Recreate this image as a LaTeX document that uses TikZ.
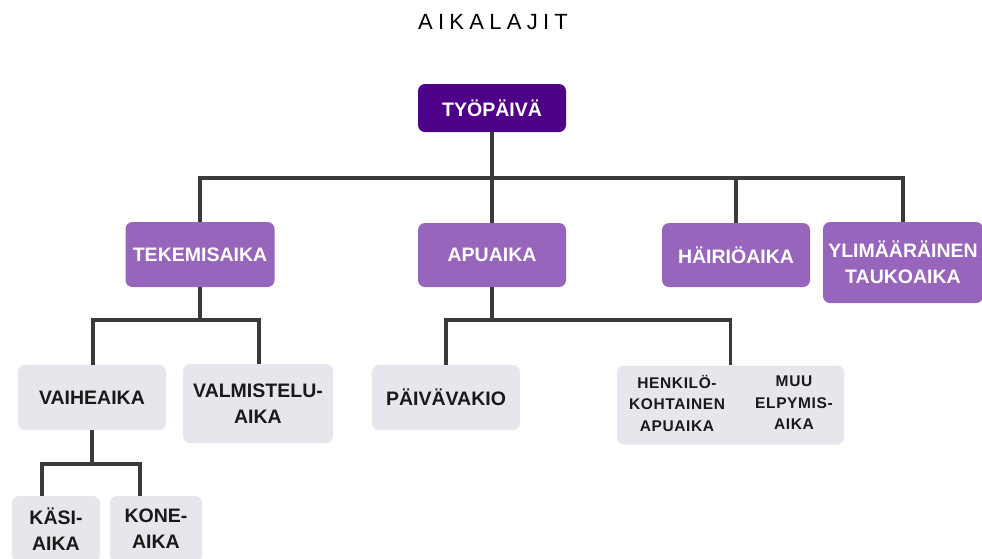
\documentclass[tikz,border=0pt]{standalone}
\usepackage{fontspec}
\setmainfont{Liberation Sans}
\definecolor{topfill}{HTML}{4F0088}
\definecolor{midfill}{HTML}{9766BC}
\definecolor{lowfill}{HTML}{E8E6EC}
\definecolor{linkcol}{HTML}{3A3A3A}
\tikzset{
  boxbase/.style={rectangle, rounded corners=7pt, inner sep=0pt, align=center,
    font=\fontsize{19.5}{26}\selectfont\bfseries},
  topbox/.style={boxbase, fill=topfill, text=white},
  midbox/.style={boxbase, fill=midfill, text=white},
  lowbox/.style={boxbase, fill=lowfill, text=black!90},
  smalltext/.style={inner sep=0pt, align=center, text=black!90,
    font=\fontsize{15.5}{21.5}\selectfont\bfseries\addfontfeature{LetterSpace=4}},
  link/.style={draw=linkcol, line width=3.5pt},
}
\begin{document}
\begin{tikzpicture}[x=1pt, y=-1pt]
\useasboundingbox (0,0) rectangle (982,558);

% title
\node[inner sep=0pt, font=\fontsize{22}{26}\selectfont\addfontfeature{LetterSpace=24}] (title) at (493,22) {AIKALAJIT};

% level 0
\node[topbox, minimum width=148pt, minimum height=48pt] (typ) at (492,108) {TYÖPÄIVÄ};

% level 1
\node[midbox, minimum width=149pt, minimum height=65pt] (tek) at (200,254.5) {TEKEMISAIKA};
\node[midbox, minimum width=148pt, minimum height=64pt] (apu) at (492,255) {APUAIKA};
\node[midbox, minimum width=148pt, minimum height=64pt] (hai) at (736,255) {HÄIRIÖAIKA};
\node[midbox, minimum width=160pt, minimum height=81pt] (yli) at (903,262.5) {YLIMÄÄRÄINEN\\TAUKOAIKA};

% level 2
\node[lowbox, minimum width=148pt, minimum height=65pt] (vai) at (92,397.5) {VAIHEAIKA};
\node[lowbox, minimum width=150pt, minimum height=79pt] (val) at (258,403.5) {VALMISTELU-\\AIKA};
\node[lowbox, minimum width=148pt, minimum height=65pt] (pai) at (446,397.5) {PÄIVÄVAKIO};
\node[lowbox, minimum width=227pt, minimum height=79pt] (hen) at (730.5,405) {};
\node[smalltext] (henA) at (677,403) {HENKILÖ-\\KOHTAINEN\\APUAIKA};
\node[smalltext] (henB) at (794,403) {MUU\\ELPYMIS-\\AIKA};

% level 3 (boxes run past the lower edge)
\node[lowbox, minimum width=88pt, minimum height=66pt] (kas) at (56,529) {KÄSI-\\AIKA};
\node[lowbox, minimum width=92pt, minimum height=66pt] (kon) at (156,529) {KONE-\\AIKA};

% bus lines
\coordinate (busA) at (492,178);
\coordinate (busB) at (199,320);
\coordinate (busC) at (492,320);
\coordinate (busD) at (92,464);

\draw[link] (typ.south) -- (busA);
\draw[link] (tek.north) |- (yli.north |- busA) -- (yli.north);
\draw[link] (apu.north) -- (apu.north |- busA);
\draw[link] (hai.north) -- (hai.north |- busA);

\draw[link] (tek.south) -- (tek.south |- busB);
\draw[link] ([xshift=1pt]vai.north) |- ([xshift=1pt]val.north |- busB) -- ([xshift=1pt]val.north);

\draw[link] (apu.south) -- (apu.south |- busC);
\draw[link] (pai.north) |- (hen.north |- busC) -- (hen.north);

\draw[link] (vai.south) -- (vai.south |- busD);
\draw[link] ([xshift=-14pt]kas.north) |- ([xshift=-16pt]kon.north |- busD) -- ([xshift=-16pt]kon.north);
\end{tikzpicture}
\end{document}
